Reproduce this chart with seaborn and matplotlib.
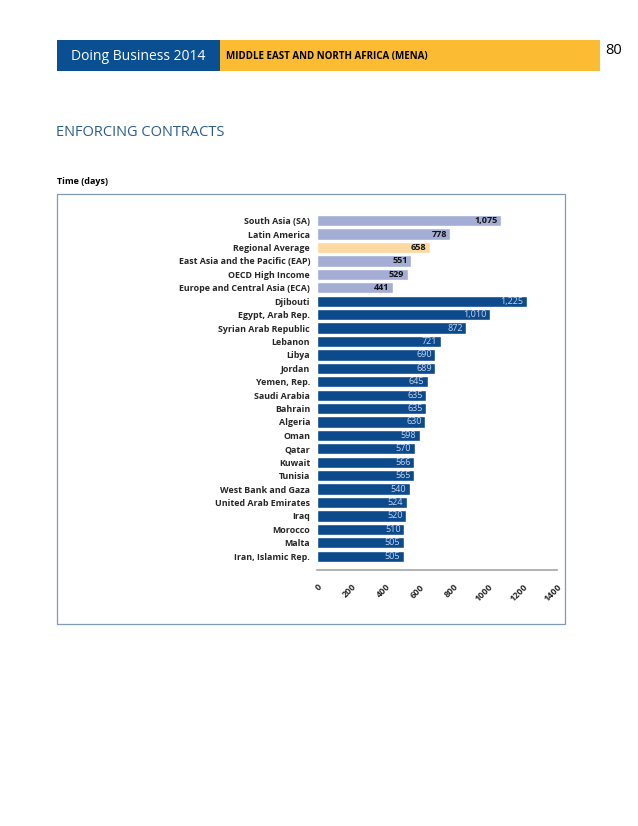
import matplotlib
matplotlib.use("Agg")
import matplotlib.pyplot as plt
import seaborn as sns
import pandas as pd
from matplotlib.patches import Rectangle

economies = [
    "South Asia (SA)", "Latin America", "Regional Average",
    "East Asia and the Pacific (EAP)", "OECD High Income",
    "Europe and Central Asia (ECA)", "Djibouti", "Egypt, Arab Rep.",
    "Syrian Arab Republic", "Lebanon", "Libya", "Jordan", "Yemen, Rep.",
    "Saudi Arabia", "Bahrain", "Algeria", "Oman", "Qatar", "Kuwait",
    "Tunisia", "West Bank and Gaza", "United Arab Emirates", "Iraq",
    "Morocco", "Malta", "Iran, Islamic Rep.",
]
days = [1075, 778, 658, 551, 529, 441, 1225, 1010, 872, 721, 690, 689, 645,
        635, 635, 630, 598, 570, 566, 565, 540, 524, 520, 510, 505, 505]
groups = ["comparator", "comparator", "average", "comparator", "comparator",
          "comparator"] + ["mena"] * 20
x_ticks = [0, 200, 400, 600, 800, 1000, 1200, 1400]

colors = {"comparator": "#a4add4", "average": "#fdd9a2", "mena": "#0d4a8c"}
label_colors = {"comparator": "#111111", "average": "#111111", "mena": "#c8d6ee"}

df = pd.DataFrame({"economy": economies, "days": days, "group": groups})

sns.set_style("white")
plt.rcParams["font.family"] = ["Open Sans", "DejaVu Sans"]

W, H = 638, 826
fig = plt.figure(figsize=(W / 100, H / 100), dpi=100)


def px(x, y):
    return x / W, 1 - y / H


# page header
fig.patches.append(Rectangle(px(57, 71), 163 / W, 31 / H, transform=fig.transFigure,
                             facecolor="#0b4f93", edgecolor="none"))
fig.patches.append(Rectangle(px(220, 71), 380 / W, 31 / H, transform=fig.transFigure,
                             facecolor="#fbbb33", edgecolor="none"))
fig.text(*px(71, 56), "Doing Business 2014", color="white", fontsize=10,
         va="center", ha="left")
fig.text(*px(226, 57), "MIDDLE EAST AND NORTH AFRICA (MENA)", color="black",
         fontsize=7, fontweight="bold", va="center", ha="left")
fig.text(*px(605, 50), "80", color="black", fontsize=10.5, va="center", ha="left")

fig.text(*px(56, 133), "ENFORCING CONTRACTS", color="#2b5c8c", fontsize=10.5,
         va="center", ha="left")
fig.text(*px(57, 182), "Time (days)", color="black", fontsize=6.5,
         fontweight="bold", va="center", ha="left")

# chart frame
fig.patches.append(Rectangle(px(57, 624), 508 / W, 430 / H, transform=fig.transFigure,
                             facecolor="none", edgecolor="#7f9bb7", linewidth=0.9))

ax = fig.add_axes([317 / W, (H - 570) / H, 240 / W, 356 / H])
sns.barplot(data=df, x="days", y="economy", hue="group", palette=colors,
            dodge=False, width=0.84, orient="h", legend=False, saturation=1, ax=ax)

ax.set_xlim(0, 1400)
ax.set_ylim(len(economies) - 1 + 1.03, -0.5)
ax.set_xticks(x_ticks)
ax.set_xticklabels([str(t) for t in x_ticks], rotation=45, ha="right",
                   rotation_mode="anchor", fontsize=6.5, fontweight="bold")
ax.tick_params(axis="x", length=0, pad=9)
ax.tick_params(axis="y", length=0, pad=5, labelsize=6.4)
for lab in ax.get_yticklabels():
    lab.set_fontweight("bold")
ax.set_xlabel("")
ax.set_ylabel("")
for side in ["top", "right", "left"]:
    ax.spines[side].set_visible(False)
ax.spines["bottom"].set_color("#a6a6a6")
ax.spines["bottom"].set_linewidth(1.2)

for i, (v, g) in enumerate(zip(days, groups)):
    ax.text(v - 20, i, f"{v:,}", ha="right", va="center", fontsize=6.5,
            color=label_colors[g], fontweight="bold" if g != "mena" else "normal")

fig.savefig("out.png", dpi=100)
